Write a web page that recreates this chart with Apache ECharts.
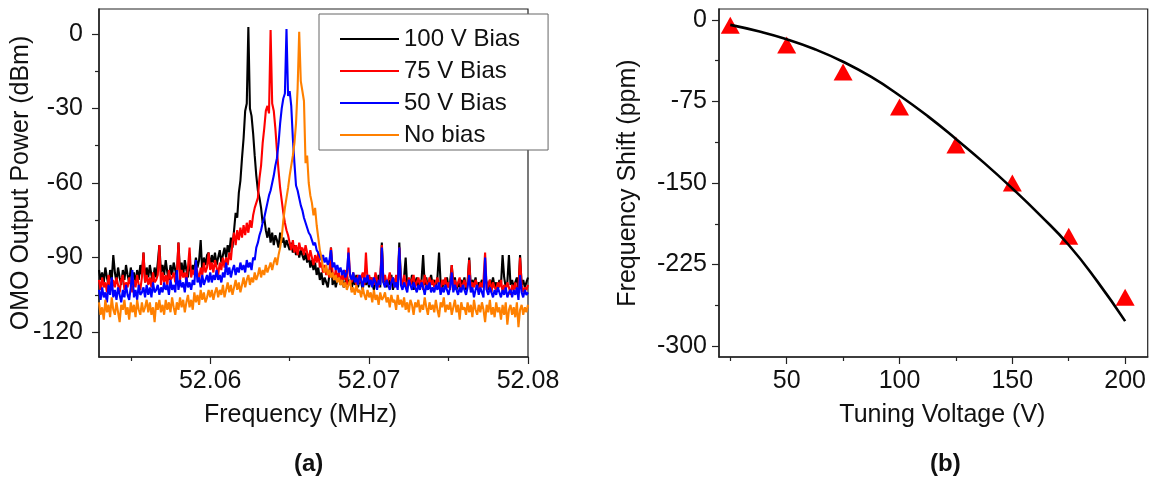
<!DOCTYPE html>
<html>
<head>
<meta charset="utf-8">
<script src="https://cdn.jsdelivr.net/npm/echarts@6/dist/echarts.min.js"></script>
<style>
html,body{margin:0;padding:0;background:#fff;}
#chart{width:1149px;height:483px;}
</style>
</head>
<body>
<div id="chart"></div>
<script>
// ---- Panel (a): spectra (frequency in MHz, power in dBm) ----
const freqMHz = [
52.0530,52.0531,52.0532,52.0533,52.0534,52.0535,52.0536,52.0537,52.0538,52.0539,
52.0540,52.0541,52.0542,52.0543,52.0544,52.0545,52.0546,52.0547,52.0548,52.0549,
52.0550,52.0551,52.0552,52.0553,52.0554,52.0555,52.0556,52.0557,52.0558,52.0559,
52.0560,52.0561,52.0562,52.0563,52.0564,52.0565,52.0566,52.0567,52.0568,52.0569,
52.0570,52.0571,52.0572,52.0573,52.0574,52.0575,52.0576,52.0577,52.0578,52.0579,
52.0580,52.0581,52.0582,52.0583,52.0584,52.0585,52.0586,52.0587,52.0588,52.0589,
52.0590,52.0591,52.0592,52.0593,52.0594,52.0595,52.0596,52.0597,52.0598,52.0599,
52.0600,52.0601,52.0602,52.0603,52.0604,52.0605,52.0606,52.0607,52.0608,52.0609,
52.0610,52.0611,52.0612,52.0613,52.0614,52.0615,52.0616,52.0617,52.0618,52.0619,
52.0620,52.0621,52.0622,52.0623,52.0624,52.0625,52.0626,52.0627,52.0628,52.0629,
52.0630,52.0631,52.0632,52.0633,52.0634,52.0635,52.0636,52.0637,52.0638,52.0639,
52.0640,52.0641,52.0642,52.0643,52.0644,52.0645,52.0646,52.0647,52.0648,52.0649,
52.0650,52.0651,52.0652,52.0653,52.0654,52.0655,52.0656,52.0657,52.0658,52.0659,
52.0660,52.0661,52.0662,52.0663,52.0664,52.0665,52.0666,52.0667,52.0668,52.0669,
52.0670,52.0671,52.0672,52.0673,52.0674,52.0675,52.0676,52.0677,52.0678,52.0679,
52.0680,52.0681,52.0682,52.0683,52.0684,52.0685,52.0686,52.0687,52.0688,52.0689,
52.0690,52.0691,52.0692,52.0693,52.0694,52.0695,52.0696,52.0697,52.0698,52.0699,
52.0700,52.0701,52.0702,52.0703,52.0704,52.0705,52.0706,52.0707,52.0708,52.0709,
52.0710,52.0711,52.0712,52.0713,52.0714,52.0715,52.0716,52.0717,52.0718,52.0719,
52.0720,52.0721,52.0722,52.0723,52.0724,52.0725,52.0726,52.0727,52.0728,52.0729,
52.0730,52.0731,52.0732,52.0733,52.0734,52.0735,52.0736,52.0737,52.0738,52.0739,
52.0740,52.0741,52.0742,52.0743,52.0744,52.0745,52.0746,52.0747,52.0748,52.0749,
52.0750,52.0751,52.0752,52.0753,52.0754,52.0755,52.0756,52.0757,52.0758,52.0759,
52.0760,52.0761,52.0762,52.0763,52.0764,52.0765,52.0766,52.0767,52.0768,52.0769,
52.0770,52.0771,52.0772,52.0773,52.0774,52.0775,52.0776,52.0777,52.0778,52.0779,
52.0780,52.0781,52.0782,52.0783,52.0784,52.0785,52.0786,52.0787,52.0788,52.0789,
52.0790,52.0791,52.0792,52.0793,52.0794,52.0795,52.0796,52.0797,52.0798,52.0799,
52.0800
];
const bias100V = [
-95,-99,-96,-100,-94,-98,-101,-95,-99,-89,
-96,-100,-94,-98,-101,-95,-99,-93,-97,-100,
-94,-98,-96,-101,-95,-99,-93,-97,-88,-100,
-94,-98,-93,-97,-100,-94,-98,-92,-85,-96,
-93,-97,-91,-96,-99,-93,-97,-92,-95,-98,
-84,-96,-92,-97,-91,-95,-98,-92,-96,-93,
-95,-90,-94,-91,-83,-96,-90,-93,-89,-88,
-94,-89,-92,-88,-93,-90,-87,-92,-89,-86,
-90,-85,-88,-82,-86,-79,-72,-74,-64,-59,
-50,-42,-31,-28,2.8,-30,-33,-40,-49,-57,
-63,-66,-70,-76,-74,-79,-82,-78,-84,-80,
-85,-81,-83,-86,-80,-84,-82,-86,-83,-85,
-87,-84,-88,-85,-89,-86,-90,-87,-89,-91,
-88,-92,-89,-94,-91,-95,-92,-97,-94,-99,
-96,-101,-98,-100,-102,-97,-86,-101,-98,-102,
-99,-97,-101,-98,-102,-100,-97,-101,-99,-103,
-98,-101,-97,-102,-99,-100,-103,-98,-101,-99,
-102,-98,-100,-103,-99,-101,-97,-102,-84,-100,
-98,-102,-99,-101,-97,-103,-100,-98,-102,-84,
-99,-101,-98,-90,-102,-99,-101,-97,-103,-100,
-98,-102,-100,-99,-89,-101,-98,-103,-100,-97,
-101,-99,-102,-98,-88,-100,-103,-99,-101,-98,
-102,-100,-93,-101,-98,-103,-100,-102,-99,-101,
-98,-103,-100,-90,-102,-99,-101,-98,-103,-100,
-101,-99,-102,-98,-100,-103,-99,-101,-98,-102,
-100,-103,-99,-101,-89,-98,-102,-100,-89,-101,
-99,-102,-100,-98,-103,-89,-101,-99,-102,-100,
-98
];
const bias75V = [
-99,-103,-98,-102,-100,-104,-97,-101,-103,-99,
-102,-98,-101,-104,-99,-97,-103,-100,-102,-98,
-101,-104,-99,-102,-97,-101,-103,-98,-88,-100,
-97,-101,-98,-102,-96,-100,-99,-97,-85,-101,
-96,-100,-97,-101,-95,-99,-98,-96,-100,-97,
-84,-99,-95,-98,-96,-100,-94,-86,-98,-95,
-97,-93,-96,-99,-94,-97,-92,-96,-94,-88,
-95,-92,-96,-91,-94,-97,-92,-95,-90,-94,
-90,-93,-88,-91,-84,-80,-85,-79,-83,-78,
-82,-77,-81,-76,-80,-75,-78,-73,-70,-68,
-66,-58,-53,-44,-38,-31,-29,-32,1.5,-28,
-31,-38,-47,-55,-62,-67,-72,-76,-79,-81,
-84,-87,-83,-88,-85,-89,-84,-87,-86,-89,
-85,-88,-91,-87,-90,-93,-89,-92,-88,-94,
-92,-96,-93,-97,-95,-98,-86,-96,-99,-95,
-98,-96,-100,-97,-99,-95,-101,-86,-97,-100,
-96,-99,-101,-97,-100,-98,-96,-101,-88,-99,
-97,-100,-98,-101,-96,-99,-102,-98,-85,-100,
-97,-101,-99,-96,-100,-98,-102,-97,-100,-86,
-99,-101,-97,-100,-102,-98,-101,-99,-97,-102,
-100,-98,-101,-99,-103,-97,-100,-102,-98,-101,
-99,-102,-100,-98,-101,-103,-99,-101,-98,-102,
-100,-103,-93,-101,-99,-102,-100,-98,-103,-101,
-99,-102,-100,-91,-103,-100,-102,-99,-101,-104,
-100,-102,-99,-88,-103,-101,-99,-104,-100,-102,
-103,-100,-102,-99,-104,-101,-103,-100,-102,-105,
-101,-103,-100,-104,-102,-90,-101,-104,-102,-103,
-101
];
const bias50V = [
-103,-107,-102,-106,-104,-108,-101,-105,-98,-106,
-103,-107,-102,-105,-108,-103,-106,-101,-105,-107,
-102,-95,-106,-103,-107,-101,-105,-104,-102,-106,
-101,-105,-102,-106,-100,-104,-103,-101,-105,-102,
-104,-100,-103,-101,-105,-99,-103,-101,-104,-95,
-103,-99,-102,-100,-104,-98,-102,-100,-103,-99,
-101,-91,-100,-98,-102,-97,-101,-99,-97,-100,
-96,-100,-97,-99,-95,-99,-97,-100,-96,-98,
-92,-97,-94,-98,-95,-93,-97,-94,-96,-92,
-95,-93,-96,-91,-94,-92,-95,-90,-91,-86,
-84,-81,-79,-76,-74,-71,-68,-65,-63,-60,
-57,-53,-50,-44,-36,-30,-26,-24,1.9,-25,
-23,-29,-42,-52,-61,-63,-66,-69,-71,-74,
-76,-78,-80,-81,-83,-85,-84,-87,-88,-88,
-91,-89,-92,-90,-93,-91,-87,-94,-92,-95,
-93,-96,-94,-97,-95,-98,-96,-88,-97,-99,
-96,-100,-98,-101,-97,-99,-102,-98,-100,-97,
-101,-99,-102,-98,-100,-103,-99,-101,-86,-100,
-102,-99,-101,-103,-100,-98,-102,-100,-103,-86,
-101,-103,-100,-102,-104,-99,-101,-103,-100,-102,
-104,-101,-103,-100,-102,-105,-101,-103,-100,-104,
-102,-104,-101,-103,-100,-105,-102,-104,-101,-103,
-105,-102,-96,-104,-101,-103,-105,-102,-104,-101,
-103,-105,-102,-97,-104,-102,-106,-103,-101,-105,
-102,-104,-106,-90,-103,-105,-102,-104,-106,-103,
-105,-102,-104,-106,-103,-105,-102,-106,-104,-103,
-106,-103,-105,-102,-107,-97,-104,-106,-103,-105,
-104
];
const noBias = [
-108,-113,-110,-115,-107,-112,-109,-114,-106,-111,
-113,-108,-112,-116,-109,-111,-107,-113,-110,-115,
-108,-112,-109,-114,-107,-111,-113,-108,-112,-110,
-107,-112,-108,-113,-110,-116,-108,-111,-107,-112,
-109,-113,-107,-111,-108,-112,-106,-110,-113,-108,
-111,-106,-110,-107,-112,-108,-105,-110,-107,-111,
-104,-108,-105,-109,-103,-107,-104,-108,-106,-103,
-106,-103,-107,-104,-102,-106,-103,-105,-101,-106,
-103,-100,-104,-101,-105,-102,-99,-103,-100,-104,
-101,-98,-102,-99,-97,-101,-98,-100,-96,-99,
-97,-94,-98,-95,-97,-93,-96,-94,-92,-95,
-92,-90,-93,-89,-86,-82,-75,-70,-66,-62,
-57,-53,-49,-44,-36,-22,0.8,-19,-23,-27,
-52,-49,-60,-65,-68,-73,-70,-77,-82,-87,
-90,-94,-96,-93,-97,-95,-98,-96,-99,-97,
-100,-98,-101,-99,-102,-100,-103,-101,-99,-104,
-102,-105,-101,-104,-103,-106,-102,-105,-107,-103,
-106,-104,-108,-103,-107,-105,-109,-104,-107,-106,
-104,-108,-106,-110,-105,-108,-107,-111,-105,-109,
-107,-110,-106,-111,-108,-112,-107,-109,-113,-108,
-110,-107,-112,-109,-111,-106,-110,-113,-108,-111,
-109,-112,-107,-111,-114,-108,-110,-106,-112,-109,
-111,-108,-113,-110,-107,-112,-109,-115,-108,-111,
-110,-113,-108,-112,-109,-114,-107,-111,-113,-109,
-112,-108,-111,-116,-109,-112,-107,-113,-110,-114,
-108,-112,-110,-115,-109,-113,-108,-117,-111,-109,
-113,-110,-114,-108,-118,-111,-109,-113,-110,-112,
-109
];
const seriesNames = ['100 V Bias', '75 V Bias', '50 V Bias', 'No bias'];
const seriesColors = ['#000000', '#ff0000', '#0000ff', '#ff8000'];
const freqTicks = [52.06, 52.07, 52.08];
const freqMinorTicks = [52.055, 52.065, 52.075];
const powerTicks = [-120, -90, -60, -30, 0];
const powerMinorTicks = [-105, -75, -45, -15];

// ---- Panel (b): tuning ----
const tuningVoltage = [25, 50, 75, 100, 125, 150, 175, 200];
const freqShift = [-5, -23, -48, -80, -115, -150, -199, -255];
const fitVoltage = [25, 37.5, 50, 62.5, 75, 87.5, 100, 112.5, 125, 137.5, 150, 162.5, 175, 187.5, 200];
const fitShift = [-4.6, -10.5, -17.8, -27, -38.5, -52.5, -69.5, -88.5, -109.5, -131.5, -155, -180, -207, -240, -277];
const voltTicks = [50, 100, 150, 200];
const voltMinorTicks = [25, 75, 125, 175];
const shiftTicks = [-300, -225, -150, -75, 0];
const shiftMinorTicks = [-262.5, -187.5, -112.5, -37.5];

const FONT = '"Liberation Sans", Arial, Helvetica, sans-serif';
const AX = '#222';
const TXT = '#111';

function majorAxis(extra) {
  return Object.assign({
    type: 'value',
    splitLine: { show: false },
    axisLine: { show: true, onZero: false, lineStyle: { color: AX, width: 1.5 } },
    nameLocation: 'middle',
    nameMoveOverlap: false,
    nameTextStyle: { fontFamily: FONT, fontSize: 25, color: TXT },
  }, extra);
}
function minorAxis(extra) {
  return Object.assign({
    type: 'value',
    splitLine: { show: false },
    axisLine: { show: false, onZero: false },
    axisLabel: { show: false },
  }, extra);
}

const chart = echarts.init(document.getElementById('chart'), null, { renderer: 'canvas' });

const spectra = [bias100V, bias75V, bias50V, noBias];
const lineSeries = spectra.map((vals, i) => ({
  name: seriesNames[i],
  type: 'line',
  xAxisIndex: 0,
  yAxisIndex: 0,
  symbol: 'none',
  showSymbol: false,
  data: freqMHz.map((f, j) => [f, vals[j]]),
  lineStyle: { color: seriesColors[i], width: 2.1 },
  itemStyle: { color: seriesColors[i] },
  animation: false
}));

const option = {
  backgroundColor: '#ffffff',
  animation: false,
  textStyle: { fontFamily: FONT },
  grid: [
    { left: 99, top: 9, width: 429, height: 348, show: true, borderColor: AX, borderWidth: 1.2, containLabel: false },
    { left: 719, top: 9, width: 429, height: 348, show: true, borderColor: AX, borderWidth: 1.2, containLabel: false }
  ],
  legend: {
    data: seriesNames,
    orient: 'vertical',
    left: 319, top: 14,
    padding: [13, 28, 3, 21],
    itemWidth: 59, itemHeight: 2, itemGap: 8,
    icon: 'rect',
    backgroundColor: '#ffffff',
    borderColor: '#666', borderWidth: 1,
    textStyle: { fontFamily: FONT, fontSize: 24, lineHeight: 24, color: TXT },
    z: 10
  },
  xAxis: [
    majorAxis({
      gridIndex: 0, min: 52.053, max: 52.08, position: 'bottom',
      axisTick: { show: true, length: 7, customValues: freqTicks, lineStyle: { color: AX, width: 1.2 } },
      axisLabel: { customValues: freqTicks, formatter: v => v.toFixed(2), fontFamily: FONT, fontSize: 25, color: TXT, margin: 12 },
      name: 'Frequency (MHz)', nameGap: 46,
      nameTextStyle: { fontFamily: FONT, fontSize: 25, color: TXT, padding: [0, 26, 0, 0] }
    }),
    minorAxis({
      gridIndex: 0, min: 52.053, max: 52.08, position: 'bottom',
      axisTick: { show: true, length: 4, customValues: freqMinorTicks, lineStyle: { color: AX, width: 1.2 } }
    }),
    majorAxis({
      gridIndex: 1, min: 20, max: 210, position: 'bottom',
      axisTick: { show: true, length: 7, customValues: voltTicks, lineStyle: { color: AX, width: 1.2 } },
      axisLabel: { customValues: voltTicks, fontFamily: FONT, fontSize: 25, color: TXT, margin: 12 },
      name: 'Tuning Voltage (V)', nameGap: 46,
      nameTextStyle: { fontFamily: FONT, fontSize: 25, color: TXT, padding: [0, 0, 0, 18] }
    }),
    minorAxis({
      gridIndex: 1, min: 20, max: 210, position: 'bottom',
      axisTick: { show: true, length: 4, customValues: voltMinorTicks, lineStyle: { color: AX, width: 1.2 } }
    })
  ],
  yAxis: [
    majorAxis({
      gridIndex: 0, min: -130, max: 10, position: 'left',
      axisTick: { show: true, length: 7, customValues: powerTicks, lineStyle: { color: AX, width: 1.2 } },
      axisLabel: { customValues: powerTicks, fontFamily: FONT, fontSize: 25, color: TXT, margin: 16 },
      name: 'OMO Output Power (dBm)', nameGap: 65, nameRotate: 90
    }),
    minorAxis({
      gridIndex: 0, min: -130, max: 10, position: 'left',
      axisTick: { show: true, length: 4, customValues: powerMinorTicks, lineStyle: { color: AX, width: 1.2 } }
    }),
    majorAxis({
      gridIndex: 1, min: -310, max: 10, position: 'left',
      axisTick: { show: true, length: 7, customValues: shiftTicks, lineStyle: { color: AX, width: 1.2 } },
      axisLabel: { customValues: shiftTicks, fontFamily: FONT, fontSize: 25, color: TXT, margin: 12 },
      name: 'Frequency Shift (ppm)', nameGap: 78, nameRotate: 90
    }),
    minorAxis({
      gridIndex: 1, min: -310, max: 10, position: 'left',
      axisTick: { show: true, length: 4, customValues: shiftMinorTicks, lineStyle: { color: AX, width: 1.2 } }
    })
  ],
  graphic: [
    { type: 'text', left: 312 - 18, top: 452, style: { text: '(a)', font: 'bold 24px ' + FONT, fill: TXT } },
    { type: 'text', left: 949 - 19, top: 452, style: { text: '(b)', font: 'bold 24px ' + FONT, fill: TXT } }
  ],
  series: lineSeries.concat([
    {
      name: 'Measured shift',
      type: 'scatter',
      xAxisIndex: 2, yAxisIndex: 2,
      symbol: 'triangle', symbolSize: [19, 17],
      itemStyle: { color: '#ff0000', opacity: 1 },
      data: tuningVoltage.map((v, i) => [v, freqShift[i]]),
      z: 2
    },
    {
      name: 'Fit',
      type: 'line',
      xAxisIndex: 2, yAxisIndex: 2,
      smooth: true,
      symbol: 'none',
      lineStyle: { color: '#000', width: 2.6 },
      data: fitVoltage.map((v, i) => [v, fitShift[i]]),
      z: 3
    }
  ])
};
chart.setOption(option);
</script>
</body>
</html>
